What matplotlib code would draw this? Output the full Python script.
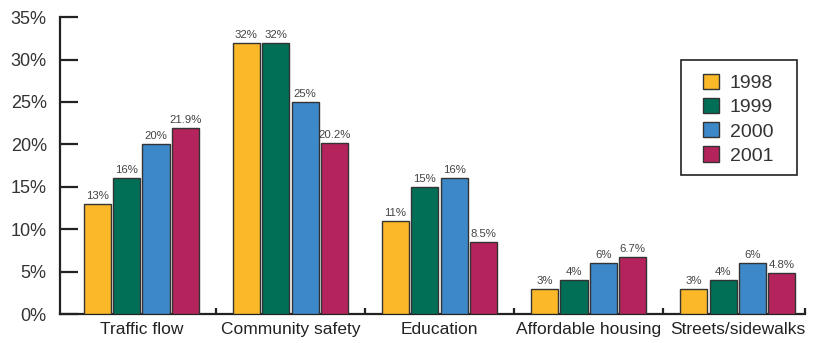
import matplotlib
matplotlib.use("Agg")
import matplotlib.pyplot as plt
import numpy as np
from matplotlib.patches import Patch, Rectangle

plt.rcParams["font.family"] = ["Liberation Sans", "DejaVu Sans"]

categories = ["Traffic flow", "Community safety", "Education", "Affordable housing", "Streets/sidewalks"]
years = ["1998", "1999", "2000", "2001"]
values = {
    "1998": [13, 32, 11, 3, 3],
    "1999": [16, 32, 15, 4, 4],
    "2000": [20, 25, 16, 6, 6],
    "2001": [21.9, 20.2, 8.5, 6.7, 4.8],
}
value_labels = {
    "1998": ["13%", "32%", "11%", "3%", "3%"],
    "1999": ["16%", "32%", "15%", "4%", "4%"],
    "2000": ["20%", "25%", "16%", "6%", "6%"],
    "2001": ["21.9%", "20.2%", "8.5%", "6.7%", "4.8%"],
}
colors = ["#FBB829", "#006F56", "#3C88C9", "#B5235D"]

ink = "#222222"
W, H = 815, 343
fig = plt.figure(figsize=(W / 100, H / 100), dpi=100)
ax = fig.add_axes([0.0736, 0.0845, 0.914, 0.8655])

x = np.arange(len(categories))
pitch = 0.197
width = 0.182
for i, yr in enumerate(years):
    xs = x + (i - 1.5) * pitch
    bars = ax.bar(xs, values[yr], width, color=colors[i], edgecolor="#333333",
                  linewidth=1.0, zorder=3)
    for b, lab in zip(bars, value_labels[yr]):
        ax.text(b.get_x() + b.get_width() / 2, b.get_height() + 0.35, lab,
                ha="center", va="bottom", fontsize=8.2, color="#444444")

ax.set_xlim(-0.545, 4.45)
ax.set_ylim(0, 35)

# spines
for s in ["top", "right"]:
    ax.spines[s].set_visible(False)
for s in ["left", "bottom"]:
    ax.spines[s].set_linewidth(1.6)
    ax.spines[s].set_color(ink)

ax.set_yticks(np.arange(0, 36, 5))
ax.set_yticklabels([f"{v}%" for v in range(0, 36, 5)])
ax.tick_params(axis="y", direction="in", length=13, width=1.6, color=ink,
               labelsize=13, labelcolor="#333333", pad=9.5)

ax.set_xticks(x)
ax.set_xticklabels(categories)
ax.tick_params(axis="x", length=0, labelsize=12.5, labelcolor=ink, pad=6)
ax.set_xticks([0.5, 1.5, 2.5, 3.5, 4.45], minor=True)
ax.tick_params(axis="x", which="minor", direction="in", length=4.5, width=1.6, color=ink)

# legend: entries without frame, box drawn separately
handles = [Patch(facecolor=c, edgecolor="#333333", linewidth=1.0, label=y) for c, y in zip(colors, years)]
leg = fig.legend(handles=handles, loc="upper left", bbox_to_anchor=(703 / W, 1 - 74 / H),
                 fontsize=14, frameon=False, handlelength=0.82, handleheight=0.82,
                 handletextpad=0.55, labelspacing=0.3, borderpad=0, borderaxespad=0)
for t in leg.get_texts():
    t.set_color("#333333")
fig.patches.append(Rectangle((681 / W, 1 - 175 / H), 116 / W, 115 / H,
                             transform=fig.transFigure, fill=False,
                             edgecolor=ink, linewidth=1.2))

fig.savefig("out.png", dpi=100)
